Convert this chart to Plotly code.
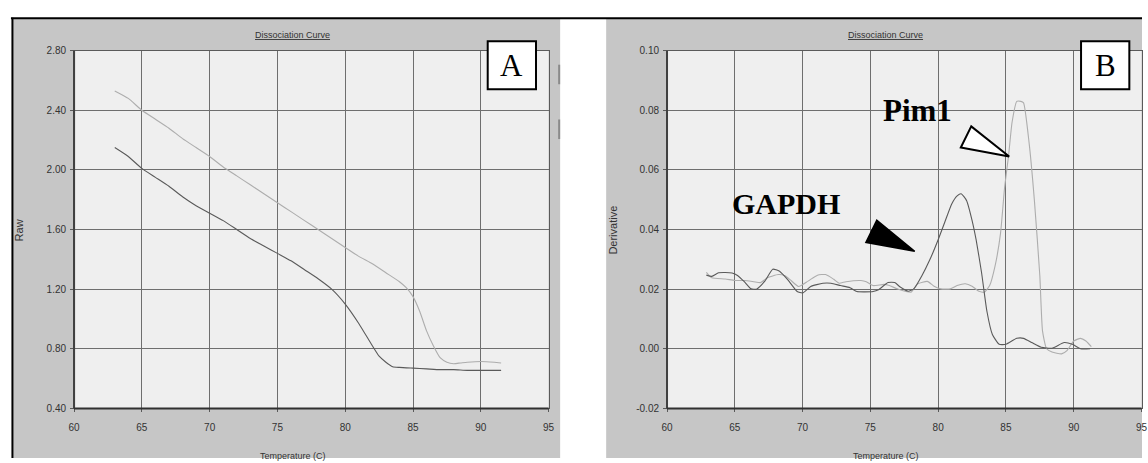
import plotly.graph_objects as go

# ---------------- data ----------------
# Panel A: raw fluorescence vs temperature
temp_raw_pim1 = [63, 64, 65, 66, 67, 68, 69, 70, 71, 72, 73, 74, 75, 76, 77, 78, 79, 80,
                 81, 82, 83, 84, 84.5, 85, 85.5, 86, 86.5, 87, 87.5, 88, 88.5, 89, 90, 91, 91.5]
raw_pim1 = [2.53, 2.48, 2.40, 2.34, 2.28, 2.21, 2.15, 2.09, 2.02, 1.96, 1.90, 1.84, 1.78, 1.72,
            1.66, 1.60, 1.54, 1.48, 1.42, 1.37, 1.31, 1.25, 1.21, 1.15, 1.05, 0.92, 0.82, 0.74,
            0.71, 0.70, 0.705, 0.71, 0.715, 0.71, 0.705]

temp_raw_gapdh = [63, 64, 65, 66, 67, 68, 69, 70, 71, 72, 73, 74, 75, 76, 77, 78, 79, 80,
                  81, 82, 82.5, 83, 83.5, 84, 85, 86, 87, 88, 89, 90, 91.5]
raw_gapdh = [2.15, 2.09, 2.01, 1.95, 1.89, 1.82, 1.76, 1.71, 1.66, 1.60, 1.54, 1.49, 1.44, 1.39,
             1.33, 1.27, 1.20, 1.10, 0.97, 0.82, 0.75, 0.71, 0.68, 0.675, 0.67, 0.665, 0.66,
             0.66, 0.655, 0.655, 0.655]

# Panel B: derivative vs temperature
temp_der_gapdh = [62.9, 63.3, 63.8, 64.3, 64.8, 65.2, 65.7, 66.2, 66.6, 67.2, 67.8, 68.3, 68.9,
                  69.6, 70.0, 70.6, 71.5, 72.1, 72.8, 73.5, 74.0, 74.6, 75.2, 75.6, 76.3, 76.8,
                  77.2, 77.8, 78.2, 78.8, 79.4, 80.0, 80.5, 81.0, 81.4, 81.7, 82.1, 82.5, 82.8,
                  83.2, 83.6, 84.0, 84.5, 85.0, 85.8, 86.3, 86.9, 87.6, 88.4, 89.3, 89.9, 90.5, 91.2]
der_gapdh = [0.0247, 0.0243, 0.0255, 0.0256, 0.0254, 0.0246, 0.0225, 0.0201, 0.0200, 0.0226,
             0.0267, 0.0260, 0.0232, 0.0192, 0.0187, 0.0209, 0.0220, 0.0220, 0.0212, 0.0205,
             0.0192, 0.0191, 0.0192, 0.0198, 0.0222, 0.0222, 0.0207, 0.0193, 0.0201, 0.0245,
             0.0300, 0.0366, 0.0426, 0.0486, 0.0513, 0.0520, 0.0497, 0.0431, 0.0366, 0.0256,
             0.0125, 0.0048, 0.0015, 0.0015, 0.0035, 0.0035, 0.0021, 0.0005, 0.0002, 0.0021,
             0.0015, 0.0000, 0.0000]

temp_der_pim1 = [62.9, 63.3, 64.3, 65.0, 65.7, 66.4, 66.9, 67.4, 68.2, 68.7, 69.1, 69.7, 70.4,
                 71.1, 71.7, 72.3, 72.7, 73.2, 74.3, 74.7, 75.2, 76.0, 76.4, 77.0, 78.0, 78.5,
                 79.2, 79.7, 80.2, 80.9, 81.4, 82.0, 82.5, 83.0, 83.4, 83.8, 84.2, 84.6, 84.9,
                 85.2, 85.45, 85.8, 86.1, 86.3, 86.7, 87.1, 87.5, 87.7, 88.0, 88.4, 89.1, 89.5,
                 90.0, 90.5, 90.9, 91.3]
der_pim1 = [0.0256, 0.0238, 0.0234, 0.0229, 0.0229, 0.0225, 0.0222, 0.0238, 0.0249, 0.0245,
            0.0231, 0.0209, 0.0227, 0.0247, 0.0249, 0.0233, 0.0220, 0.0225, 0.0229, 0.0225,
            0.0212, 0.0216, 0.0212, 0.0201, 0.0190, 0.0218, 0.0226, 0.0210, 0.0201, 0.0201,
            0.0212, 0.0218, 0.0210, 0.0193, 0.0190, 0.0212, 0.0278, 0.0387, 0.0540, 0.0650,
            0.0759, 0.0830, 0.0830, 0.0825, 0.0694, 0.0497, 0.0245, 0.0059, 0.0000, -0.0011,
            -0.0017, -0.0006, 0.0026, 0.0035, 0.0026, 0.0007]

x_ticks = [60, 65, 70, 75, 80, 85, 90, 95]
raw_ticks = [0.40, 0.80, 1.20, 1.60, 2.00, 2.40, 2.80]
raw_ticklabels = ["0.40", "0.80", "1.20", "1.60", "2.00", "2.40", "2.80"]
der_ticks = [-0.02, 0.00, 0.02, 0.04, 0.06, 0.08, 0.10]
der_ticklabels = ["-0.02", "0.00", "0.02", "0.04", "0.06", "0.08", "0.10"]
x_range = [60, 95]
raw_range = [0.40, 2.80]
der_range = [-0.02, 0.10]

# ---------------- styling ----------------
W, H = 1148, 463
LIGHT = "#adadad"
DARK = "#5a5a5a"
PANEL = "#c6c6c6"
PLOTBG = "#efefef"
GRID = "#6e6e6e"
SANS = "Liberation Sans, Arial, sans-serif"
SERIF = "Liberation Serif, Times New Roman, serif"

def px(xp):
    return xp / W

def py(yp):
    return 1 - yp / H

xdomA = [px(68.8), px(548.3)]
xdomB = [px(668.0), px(1147.5)]
ydom = [py(412.3), py(46.7)]

fig = go.Figure()
line_kw = dict(width=1.1, shape="spline", smoothing=0.5)
fig.add_trace(go.Scatter(x=temp_raw_pim1, y=raw_pim1, mode="lines", name="Pim1",
                         line=dict(color=LIGHT, **line_kw), xaxis="x", yaxis="y"))
fig.add_trace(go.Scatter(x=temp_raw_gapdh, y=raw_gapdh, mode="lines", name="GAPDH",
                         line=dict(color=DARK, **line_kw), xaxis="x", yaxis="y"))
fig.add_trace(go.Scatter(x=temp_der_pim1, y=der_pim1, mode="lines", name="Pim1",
                         line=dict(color=LIGHT, **line_kw), xaxis="x2", yaxis="y2"))
fig.add_trace(go.Scatter(x=temp_der_gapdh, y=der_gapdh, mode="lines", name="GAPDH",
                         line=dict(color=DARK, **line_kw), xaxis="x2", yaxis="y2"))

axis_common = dict(showgrid=True, gridcolor=GRID, gridwidth=1, zeroline=False,
                   showline=True, mirror=True, linecolor="#5a5a5a", linewidth=1,
                   ticks="outside", ticklen=3, tickcolor="#5a5a5a",
                   tickfont=dict(family=SANS, size=10, color="#333333"))

fig.update_layout(
    width=W, height=H, margin=dict(l=0, r=0, t=0, b=0),
    paper_bgcolor="white", plot_bgcolor=PLOTBG, showlegend=False,
    xaxis=dict(domain=xdomA, range=x_range, tickvals=x_ticks, anchor="y", ticklabelstandoff=7, **axis_common),
    yaxis=dict(domain=ydom, range=raw_range, tickvals=raw_ticks, ticktext=raw_ticklabels, anchor="x",
               ticklabelstandoff=2, **axis_common),
    xaxis2=dict(domain=xdomB, range=x_range, tickvals=x_ticks, anchor="y2", ticklabelstandoff=7, **axis_common),
    yaxis2=dict(domain=ydom, range=der_range, tickvals=der_ticks, ticktext=der_ticklabels, anchor="x2",
                ticklabelstandoff=2, **axis_common),
)

shapes = []
# window frames / backgrounds
shapes.append(dict(type="rect", xref="paper", yref="paper", x0=px(7), x1=px(560), y0=0, y1=py(14),
                   fillcolor=PANEL, line=dict(width=0), layer="below"))
shapes.append(dict(type="rect", xref="paper", yref="paper", x0=px(606.5), x1=1, y0=0, y1=py(14),
                   fillcolor=PANEL, line=dict(width=0), layer="below"))
shapes.append(dict(type="line", xref="paper", yref="paper", x0=px(5), x1=1, y0=py(13.5), y1=py(13.5),
                   line=dict(color="black", width=2), layer="below"))
shapes.append(dict(type="line", xref="paper", yref="paper", x0=px(6.5), x1=px(6.5), y0=0, y1=py(13),
                   line=dict(color="black", width=2), layer="below"))
for (y0p, y1p) in [(61, 81), (117, 137)]:
    shapes.append(dict(type="line", xref="paper", yref="paper", x0=px(559), x1=px(559),
                       y0=py(y1p), y1=py(y0p), line=dict(color="#8a8a8a", width=2), layer="below"))
# plot backgrounds
for xr, yr in [("x", "y"), ("x2", "y2")]:
    shapes.append(dict(type="rect", xref=xr + " domain", yref=yr + " domain", x0=0, x1=1, y0=0, y1=1,
                       fillcolor=PLOTBG, line=dict(width=0), layer="below"))
    # darker left / bottom axis lines
    shapes.append(dict(type="line", xref=xr + " domain", yref=yr + " domain", x0=0, x1=0, y0=0, y1=1,
                       line=dict(color="#404040", width=2), layer="above"))
    shapes.append(dict(type="line", xref=xr + " domain", yref=yr + " domain", x0=0, x1=1, y0=0, y1=0,
                       line=dict(color="#303030", width=2), layer="above"))

# panel label boxes
for x0p in [486.8, 1086.4]:
    shapes.append(dict(type="rect", xref="paper", yref="paper", x0=px(x0p), x1=px(x0p + 48.8),
                       y0=py(86), y1=py(37), fillcolor="white", line=dict(color="black", width=2)))

# arrowheads in panel B
shapes.append(dict(type="path", xref="x2", yref="y2",
                   path="M 75.47,0.0431 L 74.67,0.0357 L 78.27,0.0327 Z",
                   fillcolor="black", line=dict(color="black", width=1.5)))
shapes.append(dict(type="path", xref="x2", yref="y2",
                   path="M 82.44,0.0746 L 81.67,0.0675 L 85.24,0.0645 Z",
                   fillcolor="white", line=dict(color="black", width=2)))
fig.update_layout(shapes=shapes)

ann = []
for cx in [290.0, 889.2]:
    ann.append(dict(text="<u>Dissociation Curve</u>", xref="paper", yref="paper", x=px(cx), y=py(30.5),
                    showarrow=False, xanchor="center", yanchor="middle",
                    font=dict(family=SANS, size=9, color="#333333")))
    ann.append(dict(text="Temperature (C)", xref="paper", yref="paper", x=px(cx), y=py(454),
                    showarrow=False, xanchor="center", yanchor="top",
                    font=dict(family=SANS, size=9, color="#333333")))
ann.append(dict(text="Raw", xref="paper", yref="paper", x=px(13.5), y=py(230), textangle=-90,
                showarrow=False, xanchor="center", yanchor="middle",
                font=dict(family=SANS, size=11, color="#333333")))
ann.append(dict(text="Derivative", xref="paper", yref="paper", x=px(613), y=py(230), textangle=-90,
                showarrow=False, xanchor="center", yanchor="middle",
                font=dict(family=SANS, size=11, color="#333333")))
for lab, cx in [("A", 511.2), ("B", 1110.8)]:
    ann.append(dict(text=lab, xref="paper", yref="paper", x=px(cx), y=py(62), showarrow=False,
                    xanchor="center", yanchor="middle",
                    font=dict(family=SERIF, size=31, color="black")))
ann.append(dict(text="<b>Pim1</b>", xref="x2", yref="y2", x=78.5, y=0.0799, showarrow=False,
                xanchor="center", yanchor="middle", font=dict(family=SERIF, size=31, color="black")))
ann.append(dict(text="<b>GAPDH</b>", xref="x2", yref="y2", x=68.74, y=0.0487, showarrow=False,
                xanchor="center", yanchor="middle", font=dict(family=SERIF, size=30, color="black")))
fig.update_layout(annotations=ann)

fig.write_html("out.html", post_script="document.body.style.margin='0';")
